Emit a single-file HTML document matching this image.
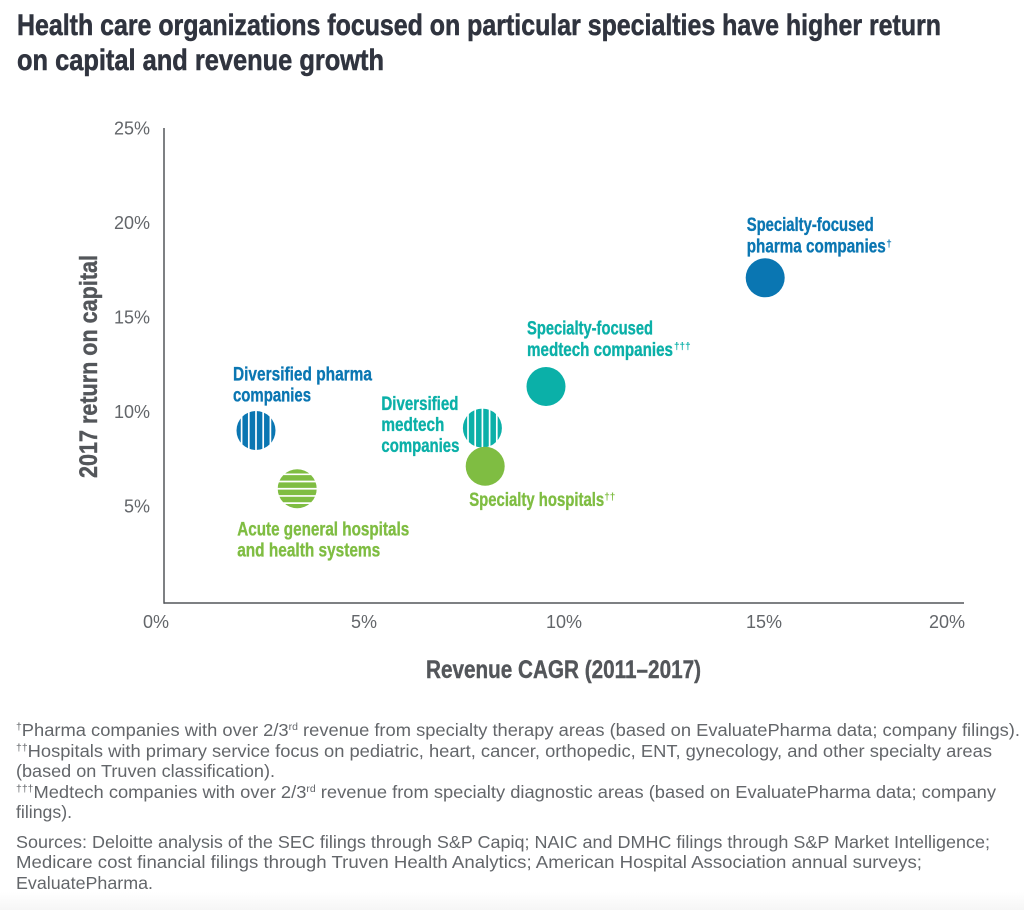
<!DOCTYPE html>
<html lang="en">
<head>
<meta charset="utf-8">
<title>Health care specialties chart</title>
<style>
html,body{margin:0;padding:0;background:#fff;width:1024px;height:910px;overflow:hidden}
svg{display:block}
text{font-family:"Liberation Sans",sans-serif}
.title{font-size:30px;font-weight:700;fill:#30343f;stroke:#30343f;stroke-width:.55px}
.tick{font-size:18px;fill:#63666a}
.axis-title{font-size:25px;font-weight:700;fill:#53565a;stroke:#53565a;stroke-width:.4px}
.lab{font-size:19px;font-weight:700;stroke-width:.35px}
.sup{font-size:10px;font-weight:700}
.note{font-size:17.5px;fill:#63666a}
.blue{fill:#0a76b2;stroke:#0a76b2}.teal{fill:#0bb0a8;stroke:#0bb0a8}.green{fill:#7fbd42;stroke:#7fbd42}
.sup{stroke-width:0}
</style>
</head>
<body>
<svg id="chart" width="1024" height="910" viewBox="0 0 1024 910" xmlns="http://www.w3.org/2000/svg">
<defs>
<linearGradient id="fade" x1="0" y1="0" x2="0" y2="1"><stop offset="0" stop-color="#ffffff"/><stop offset="1" stop-color="#f6f6f6"/></linearGradient>
</defs>
<rect x="0" y="892" width="1024" height="18" fill="url(#fade)"/>

<g>
<text class="title" x="17" y="35" textLength="924" lengthAdjust="spacingAndGlyphs">Health care organizations focused on particular specialties have higher return</text>
<text class="title" x="17" y="70" textLength="367" lengthAdjust="spacingAndGlyphs">on capital and revenue growth</text>
</g>

<line x1="164" y1="128" x2="164" y2="603.7" stroke="#53565a" stroke-width="1.5"/>
<line x1="164" y1="603" x2="964" y2="603" stroke="#53565a" stroke-width="1.5"/>
<g id="xticks"></g>
<g id="yticks"></g>

<text class="axis-title" transform="translate(97,478) rotate(-90)" textLength="223" lengthAdjust="spacingAndGlyphs">2017 return on capital</text>
<text class="axis-title" x="426" y="678" textLength="275" lengthAdjust="spacingAndGlyphs">Revenue CAGR (2011–2017)</text>

<g id="marks"></g>

<!-- Annotation labels: positions are relative to their bubble, moved by script -->
<g class="pt-label">
<text class="lab blue" x="-18.5" y="-47" textLength="127" lengthAdjust="spacingAndGlyphs">Specialty-focused</text>
<text class="lab blue" x="-18.5" y="-25.5" textLength="139" lengthAdjust="spacingAndGlyphs">pharma companies</text>
<text class="sup blue" x="121" y="-31">†</text>
</g>
<g class="pt-label">
<text class="lab teal" x="-19" y="-52" textLength="126" lengthAdjust="spacingAndGlyphs">Specialty-focused</text>
<text class="lab teal" x="-19" y="-30.5" textLength="146" lengthAdjust="spacingAndGlyphs">medtech companies</text>
<text class="sup teal" x="128" y="-37">†††</text>
</g>
<g class="pt-label">
<text class="lab blue" x="-23" y="-50" textLength="139" lengthAdjust="spacingAndGlyphs">Diversified pharma</text>
<text class="lab blue" x="-23" y="-29" textLength="78" lengthAdjust="spacingAndGlyphs">companies</text>
</g>
<g class="pt-label">
<text class="lab green" x="-60" y="47" textLength="172" lengthAdjust="spacingAndGlyphs">Acute general hospitals</text>
<text class="lab green" x="-60" y="68" textLength="143" lengthAdjust="spacingAndGlyphs">and health systems</text>
</g>
<g class="pt-label">
<text class="lab teal" x="-101" y="-18" textLength="77" lengthAdjust="spacingAndGlyphs">Diversified</text>
<text class="lab teal" x="-101" y="3" textLength="63" lengthAdjust="spacingAndGlyphs">medtech</text>
<text class="lab teal" x="-101" y="24" textLength="78" lengthAdjust="spacingAndGlyphs">companies</text>
</g>
<g class="pt-label">
<text class="lab green" x="-16" y="40" textLength="135" lengthAdjust="spacingAndGlyphs">Specialty hospitals</text>
<text class="sup green" x="119" y="34">††</text>
</g>

<g>
<text class="note" x="16" y="736" textLength="1004" lengthAdjust="spacingAndGlyphs"><tspan font-size="10" dy="-6">†</tspan><tspan dy="6">Pharma companies with over 2/3</tspan><tspan font-size="10" dy="-6">rd</tspan><tspan dy="6"> revenue from specialty therapy areas (based on EvaluatePharma data; company filings).</tspan></text>
<text class="note" x="16" y="757" textLength="976" lengthAdjust="spacingAndGlyphs"><tspan font-size="10" dy="-6">††</tspan><tspan dy="6">Hospitals with primary service focus on pediatric, heart, cancer, orthopedic, ENT, gynecology, and other specialty areas</tspan></text>
<text class="note" x="16" y="777" textLength="259" lengthAdjust="spacingAndGlyphs">(based on Truven classification).</text>
<text class="note" x="16" y="798" textLength="980" lengthAdjust="spacingAndGlyphs"><tspan font-size="10" dy="-6">†††</tspan><tspan dy="6">Medtech companies with over 2/3</tspan><tspan font-size="10" dy="-6">rd</tspan><tspan dy="6"> revenue from specialty diagnostic areas (based on EvaluatePharma data; company</tspan></text>
<text class="note" x="16" y="818" textLength="56" lengthAdjust="spacingAndGlyphs">filings).</text>
<text class="note" x="16" y="848" textLength="974" lengthAdjust="spacingAndGlyphs">Sources: Deloitte analysis of the SEC filings through S&amp;P Capiq; NAIC and DMHC filings through S&amp;P Market Intelligence;</text>
<text class="note" x="16" y="868" textLength="906" lengthAdjust="spacingAndGlyphs">Medicare cost financial filings through Truven Health Analytics; American Hospital Association annual surveys;</text>
<text class="note" x="16" y="889" textLength="137" lengthAdjust="spacingAndGlyphs">EvaluatePharma.</text>
</g>
</svg>
<script>
// Chart data
const categories = ["Specialty-focused pharma companies", "Specialty-focused medtech companies", "Diversified pharma companies", "Acute general hospitals and health systems", "Diversified medtech companies", "Specialty hospitals"];
const revenueCagr = [15.03, 9.55, 2.3, 3.33, 7.96, 8.03];
const returnOnCapital = [17.1, 11.35, 9.02, 5.94, 9.15, 7.13];
const fillColors = ["#0a76b2", "#0bb0a8", "#0a76b2", "#7fbd42", "#0bb0a8", "#7fbd42"];
const stripeKinds = ["none", "none", "vertical", "horizontal", "vertical", "none"];
const xTickValues = [0, 5, 10, 15, 20];
const yTickValues = [5, 10, 15, 20, 25];

const NS = "http://www.w3.org/2000/svg";
function xScale(v) { return 164 + v * 40; }
function yScale(v) { return 601 - v * 18.9; }
const R = 19.5;

function make(tag, attrs) {
  const el = document.createElementNS(NS, tag);
  for (const k in attrs) el.setAttribute(k, attrs[k]);
  return el;
}

const xG = document.getElementById("xticks");
xTickValues.forEach(function (v, i) {
  let shift = 0;
  if (i === 0) shift = -8;
  if (i === xTickValues.length - 1) shift = -17;
  const t = make("text", { x: xScale(v) + shift, y: 628, "text-anchor": "middle", "class": "tick" });
  
  
  t.textContent = v + "%";
  xG.appendChild(t);
});

const yG = document.getElementById("yticks");
yTickValues.forEach(function (v) {
  const t = make("text", { x: 150, y: yScale(v) + 6, "text-anchor": "end", "class": "tick" });
  
  
  t.textContent = v + "%";
  yG.appendChild(t);
});

const marks = document.getElementById("marks");
const labelGroups = document.querySelectorAll(".pt-label");
categories.forEach(function (name, i) {
  const cx = xScale(revenueCagr[i]);
  const cy = yScale(returnOnCapital[i]);
  const g = make("g", { transform: "translate(" + cx + "," + cy + ")" });
  
  
  const title = make("title", {});
  title.textContent = name;
  g.appendChild(title);
  const c = make("circle", { cx: 0, cy: 0, r: R, fill: fillColors[i] });
  
  
  g.appendChild(c);
  if (stripeKinds[i] !== "none") {
    for (let k = -2; k <= 2; k++) {
      const off = k * 7.2;
      const half = Math.sqrt(R * R - off * off) + 1;
      const line = stripeKinds[i] === "vertical"
        ? make("line", { x1: off, x2: off, y1: -half, y2: half })
        : make("line", { y1: off, y2: off, x1: -half, x2: half });
      line.setAttribute("stroke", "#ffffff");
      line.setAttribute("stroke-width", "1.7");
      
      
      g.appendChild(line);
    }
  }
  marks.appendChild(g);
  labelGroups[i].setAttribute("transform", "translate(" + cx + "," + cy + ")");
});
</script>
</body>
</html>
